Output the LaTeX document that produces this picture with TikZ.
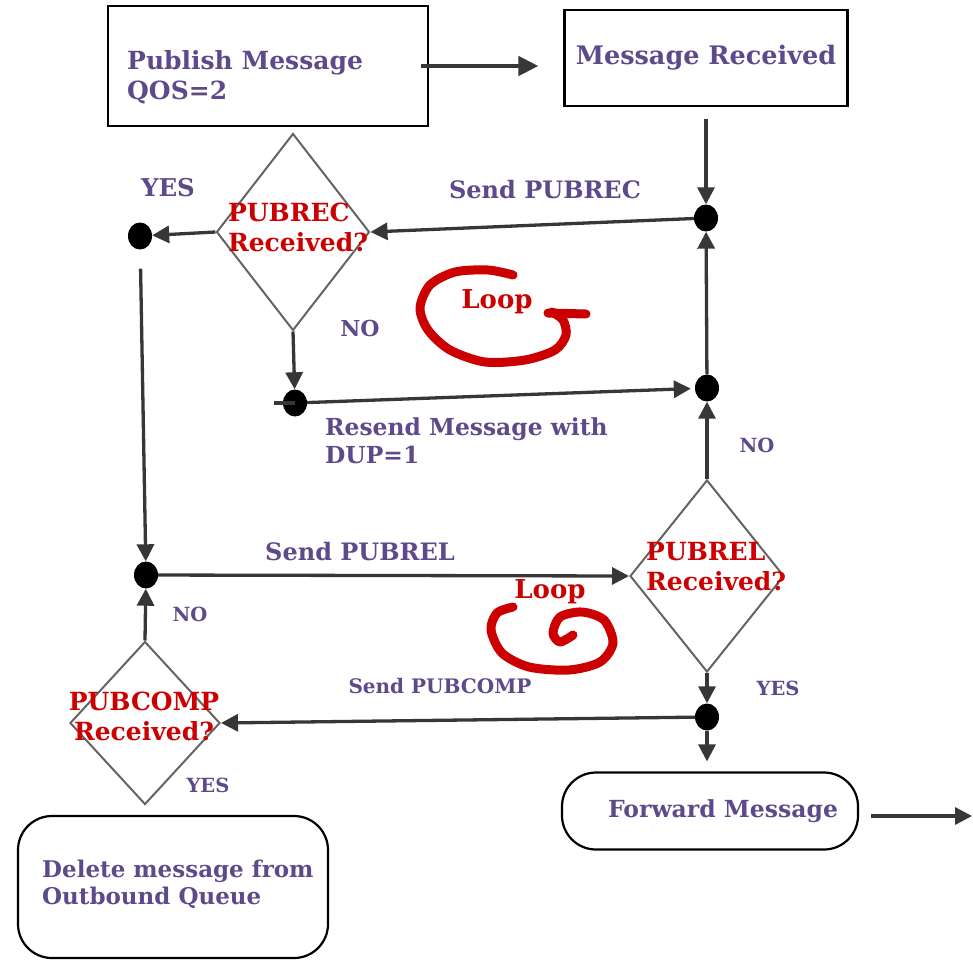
\documentclass[tikz,border=0pt]{standalone}
\usepackage{fontspec}
\setmainfont{DejaVu Serif}
\usetikzlibrary{arrows.meta,shapes.geometric}
\definecolor{purp}{RGB}{94,74,138}
\definecolor{redt}{RGB}{204,0,0}
\definecolor{arrg}{RGB}{55,55,55}
\definecolor{diag}{RGB}{100,100,100}
\newcommand{\fsz}[2]{\bfseries\fontsize{#1}{#2}\selectfont}
\begin{document}
\begin{tikzpicture}[x=1pt,y=-1pt,
 lbl/.style={text=purp,font=\fsz{24}{30},inner sep=0pt},
 slbl/.style={text=purp,font=\fsz{19.5}{22},inner sep=0pt},
 rlbl/.style={text=redt,font=\fsz{25}{30},align=left,inner sep=0pt},
 arr/.style={draw=arrg,line width=3.3pt,-{Triangle[length=17pt,width=17pt]}},
 plain/.style={draw=arrg,line width=3.3pt},
 bigarr/.style={draw=arrg,line width=4.5pt,-{Triangle[length=20pt,width=19pt]}},
 dotn/.style={ellipse,fill=black,minimum width=24pt,minimum height=27pt,inner sep=0pt},
 dia/.style={diamond,draw=diag,line width=2pt,inner sep=0pt},
 sqbox/.style={draw=black,line width=2.2pt,inner sep=0pt},
 rbox/.style={draw=black,line width=2.2pt,rounded corners=34pt,inner sep=0pt},
 loopst/.style={draw=redt,line width=9pt,line cap=round,line join=round},
]
\useasboundingbox (0,0) rectangle (973,966);
% boxes
\node[sqbox,minimum width=320pt,minimum height=120pt] (pub) at (268,66) {};
\node[lbl,font=\fsz{25}{30},anchor=west,align=left] (pubt) at (127,77) {Publish Message\\QOS=2};
\node[sqbox,text=purp,font=\fsz{25.5}{30},minimum width=283pt,minimum height=96pt] (rec) at (706,58) {Message Received};
\node[rbox,text=purp,font=\fsz{23.5}{28},minimum width=296pt,minimum height=77pt] (fwd) at (710,811) {\hspace*{26pt}Forward Message};
\node[rbox,minimum width=310pt,minimum height=142pt] (del) at (173,887) {};
\node[lbl,font=\fsz{23}{27},anchor=west,align=left] (delt) at (42,884) {Delete message from\\Outbound Queue};
% dots
\node[dotn] (d1) at (706,218) {};
\node[dotn] (d2) at (140,236) {};
\node[dotn] (d3) at (295,403) {};
\node[dotn] (d4) at (707,388) {};
\node[dotn] (d5) at (146,575) {};
\node[dotn] (d6) at (707,717) {};
% diamonds
\node[dia,minimum width=153pt,minimum height=197pt] (q1) at (293,232) {};
\node[rlbl] (q1t) at (298,227) {PUBREC\\Received?};
\node[dia,minimum width=154pt,minimum height=192pt] (q2) at (707,576) {};
\node[rlbl,anchor=west] (q2t) at (646,567) {PUBREL\\Received?};
\node[dia,minimum width=150pt,minimum height=163pt] (q3) at (145,723) {};
\node[rlbl,align=center] (q3t) at (144,716) {PUBCOMP\\Received?};
% connectors
\draw[bigarr] ([xshift=-8pt]pub.east) -- ([xshift=-25pt]pub.east -| rec.west);
\draw[arr,shorten <=12pt] (rec) -- (d1);
\draw[arr] (d1) -- (q1.east);
\draw[arr] (q1.west) -- (d2);
\draw[arr] (q1.south) -- (d3);
\draw[plain] (d3.center) -- ++(-21,0);
\draw[arr,shorten >=4pt] (d3) -- (d4);
\draw[arr] (d4) -- (d1);
\draw[arr] (q2.north) -- (d4);
\draw[arr,shorten <=19pt] (d2) -- (d5);
\draw[arr] (d5) -- (q2.west);
\draw[arr] (q3.north) -- (d5);
\draw[arr] (q2.south) -- (d6);
\draw[arr] (d6) -- (q3.east);
\draw[arr,shorten >=10pt] (d6) -- (d6 |- fwd.north);
\coordinate (out) at (972,816);
\draw[arr] ([xshift=12pt]fwd.east |- out) -- (out);
% labels
\node[lbl,font=\fsz{24.5}{30}] (y1) at (168,188) {YES};
\node[lbl,font=\fsz{22}{30}] (n1) at (360,328) {NO};
\node[lbl] (sp1) at (545,190) {Send PUBREC};
\node[lbl,font=\fsz{23.4}{28},anchor=west,align=left] (rs) at (325,441) {Resend Message with\\DUP=1};
\node[slbl] (n2) at (757,445) {NO};
\node[lbl] (sp2) at (360,552) {Send PUBREL};
\node[slbl] (n3) at (190,614) {NO};
\node[slbl,font=\fsz{20}{24}] (sp3) at (440,686) {Send PUBCOMP};
\node[slbl] (y2) at (778,688) {YES};
\node[slbl] (y3) at (208,785) {YES};
% loops
\node[rlbl,font=\fsz{26}{30}] (l1) at (497,302) {Loop};
\node[rlbl,font=\fsz{26}{30}] (l2) at (550,592) {Loop};
\draw[loopst] plot[smooth] coordinates {(513,275) (488,270) (455,272) (430,285) (420,308) (428,330) (450,350) (485,362) (525,360) (555,350) (566,335) (563,320) (552,312)};
\draw[loopst] (548,313) -- (586,314);
\draw[loopst] plot[smooth] coordinates {(513,607) (497,613) (491,630) (502,653) (529,667) (569,670) (600,662) (613,643) (604,620) (582,612) (560,617) (553,633) (560,642) (573,635)};
\end{tikzpicture}
\end{document}
